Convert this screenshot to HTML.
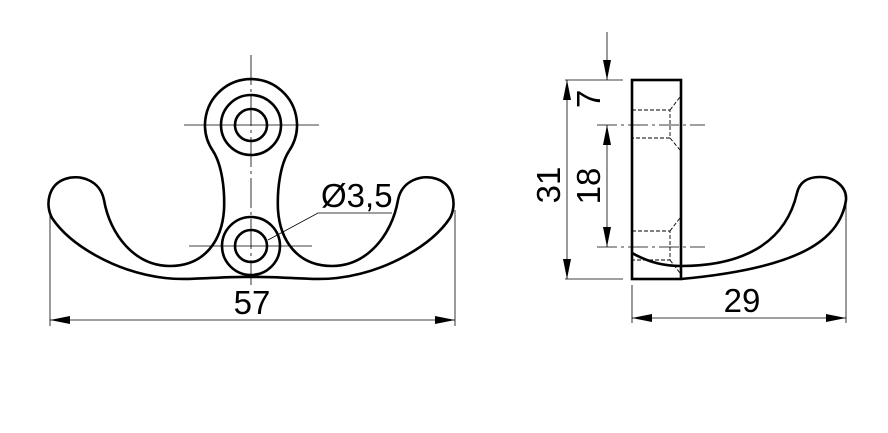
<!DOCTYPE html>
<html><head><style>html,body{margin:0;padding:0;background:#fff}svg{display:block}</style></head>
<body>
<svg width="888" height="433" viewBox="0 0 888 433" xmlns="http://www.w3.org/2000/svg" font-family="Liberation Sans, sans-serif">
<defs>
<marker id="a" viewBox="0 0 20 8" refX="20" refY="4" markerWidth="20" markerHeight="8" markerUnits="userSpaceOnUse" orient="auto-start-reverse"><path d="M0,0 L20,4 L0,8 Z" fill="#000"/></marker>
</defs>
<g fill="none" stroke="#000" stroke-width="2.6">
<path id="h" d="M251,277 C220,276 190,281 165,278 C115,272 70,245 52,218 C45,205 48,185 65,179 C80,174 100,180 104,200 C110,235 135,266 170,266 C205,266 222,240 224,210 C225,190 222,165 213,151"/>
<use href="#h" transform="translate(502,0) scale(-1,1)"/>
<path d="M213,151 A46,46 0 1 1 289,151"/>
<circle cx="251" cy="125" r="30"/>
<circle cx="251" cy="125" r="16"/>
<circle cx="251" cy="246" r="29"/>
<circle cx="251" cy="246" r="16"/>
</g>
<g stroke="#000" stroke-width="0.8" fill="none">
<line x1="184" y1="125" x2="319" y2="125"/>
<line x1="189" y1="246" x2="312" y2="246"/>
<line x1="251" y1="55" x2="251" y2="285" stroke-dasharray="30,4,3,4"/>
<line x1="50" y1="210" x2="50" y2="326"/>
<line x1="455" y1="210" x2="455" y2="326"/>
<line x1="50" y1="320" x2="455" y2="320" marker-start="url(#a)" marker-end="url(#a)"/>
<polyline points="392,213 318,213 268,240"/>
</g>
<text x="252" y="314" font-size="33" text-anchor="middle">57</text>
<text x="321" y="207" font-size="33">Ø3,5</text>
<g fill="none" stroke="#000" stroke-width="2.6">
<rect x="632" y="80" width="49" height="199"/>
<path d="M632,253 C650,263 665,266 681,266 C740,266 785,245 797,193 C800,180 810,177 820,177 C835,177 847,187 846,200 C840,240 800,268 681,279"/>
</g>
<g stroke="#000" stroke-width="0.9" fill="none" stroke-dasharray="4,2">
<polyline points="632,110 670,110 670,138 632,138"/>
<line x1="670" y1="110" x2="680" y2="97"/>
<line x1="670" y1="138" x2="680" y2="150"/>
<polyline points="632,231 670,231 670,260 632,260"/>
<line x1="670" y1="231" x2="680" y2="218"/>
<line x1="670" y1="260" x2="680" y2="273"/>
</g>
<g stroke="#000" stroke-width="0.8" fill="none">
<line x1="597" y1="125" x2="705" y2="125" stroke-dasharray="20,4,3,4"/>
<line x1="597" y1="247" x2="705" y2="247" stroke-dasharray="20,4,3,4"/>
<line x1="565" y1="80" x2="623" y2="80"/>
<line x1="565" y1="279" x2="623" y2="279"/>
<line x1="567" y1="80" x2="567" y2="279" marker-start="url(#a)" marker-end="url(#a)"/>
<line x1="607" y1="32" x2="607" y2="80" marker-end="url(#a)"/>
<line x1="607" y1="125" x2="607" y2="247" marker-start="url(#a)" marker-end="url(#a)"/>
<line x1="632" y1="285" x2="632" y2="323"/>
<line x1="846" y1="205" x2="846" y2="323"/>
<line x1="632" y1="318" x2="846" y2="318" marker-start="url(#a)" marker-end="url(#a)"/>
</g>
<text x="742" y="312" font-size="33" text-anchor="middle">29</text>
<text transform="translate(560,185) rotate(-90)" font-size="33" text-anchor="middle">31</text>
<text transform="translate(600,186) rotate(-90)" font-size="33" text-anchor="middle">18</text>
<text transform="translate(600,99) rotate(-90)" font-size="33" text-anchor="middle">7</text>
</svg>
</body></html>
